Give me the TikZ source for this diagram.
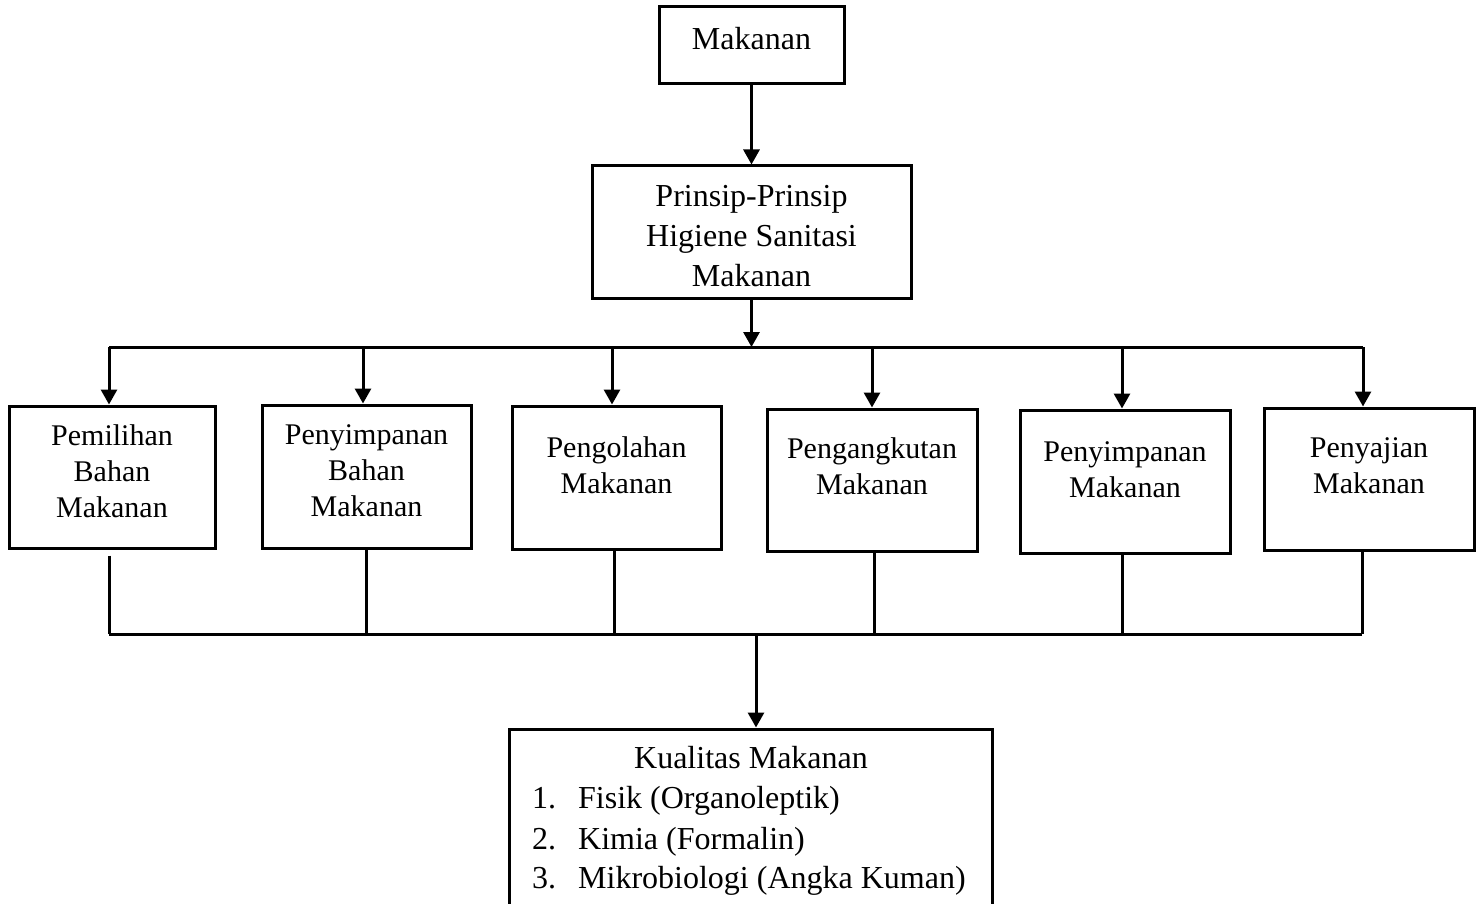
\documentclass[tikz,border=0pt]{standalone}
\usepackage{fontspec}
\setmainfont{Liberation Serif}
\usetikzlibrary{arrows.meta}
\tikzset{
  box/.style={draw, line width=3pt, inner sep=0pt, rectangle},
  conn/.style={line width=3pt},
  arr/.style={line width=3pt, -{Triangle[width=16pt,length=15pt]}},
  smalltxt/.style={inner sep=0pt, align=center, font=\fontsize{30}{36}\selectfont},
  bigtxt/.style={inner sep=0pt, align=center, font=\fontsize{32}{40}\selectfont},
}
\begin{document}
\begin{tikzpicture}[x=1pt,y=-1pt]
\clip (0,0) rectangle (1483,904);
\fill[white] (0,0) rectangle (1483,904);
% top boxes
\node[box, minimum width=185pt, minimum height=77pt] (mk) at (751.5,45.5) {};
\node[bigtxt, anchor=base] (mkt) at (751.5,50) {Makanan};
\node[box, minimum width=319pt, minimum height=132pt] (pr) at (751.5,232) {};
\node[bigtxt, anchor=north] (prt) at (751.5,185) {Prinsip-Prinsip\\Higiene Sanitasi\\Makanan};
% six boxes
\node[box, minimum width=206pt, minimum height=142pt] (b1) at (112,477) {};
\node[box, minimum width=209pt, minimum height=143pt] (b2) at (366.5,476.5) {};
\node[box, minimum width=209pt, minimum height=143pt] (b3) at (616.5,477.5) {};
\node[box, minimum width=210pt, minimum height=142pt] (b4) at (872,480) {};
\node[box, minimum width=210pt, minimum height=143pt] (b5) at (1125,481.5) {};
\node[box, minimum width=210pt, minimum height=142pt] (b6) at (1369,479) {};
\node[smalltxt, anchor=north] (t1) at (112,424) {Pemilihan\\Bahan\\Makanan};
\node[smalltxt, anchor=north] (t2) at (366.5,424) {Penyimpanan\\Bahan\\Makanan};
\node[smalltxt, anchor=north] (t3) at (616.5,436) {Pengolahan\\Makanan};
\node[smalltxt, anchor=north] (t4) at (872,437) {Pengangkutan\\Makanan};
\node[smalltxt, anchor=north] (t5) at (1125,441) {Penyimpanan\\Makanan};
\node[smalltxt, anchor=north] (t6) at (1369,437) {Penyajian\\Makanan};
% bottom box
\node[box, minimum width=483pt, minimum height=260pt] (kq) at (750.5,859) {};
\node[bigtxt, anchor=base] (kqt) at (751,768) {Kualitas Makanan};
\node[bigtxt, anchor=base west] (k1) at (532,808) {\makebox[46pt][l]{1.}Fisik (Organoleptik)};
\node[bigtxt, anchor=base west] (k2) at (532,849) {\makebox[46pt][l]{2.}Kimia (Formalin)};
\node[bigtxt, anchor=base west] (k3) at (532,888) {\makebox[46pt][l]{3.}Mikrobiologi (Angka Kuman)};
% connectors top
\draw[arr] (mk.south) -- (mk.south |- pr.north);
\coordinate (u1) at (109,347);
\coordinate (u2) at (363,347);
\coordinate (u3) at (612,347);
\coordinate (u4) at (872,347);
\coordinate (u5) at (1122,347);
\coordinate (u6) at (1363,347);
\draw[arr] (pr.south) -- (pr.south |- u1);
\draw[conn] (u1) -- (u6);
\foreach \i in {1,...,6}{
  \draw[arr] (u\i) -- (u\i |- b\i.north);
}
% connectors bottom
\coordinate (d1) at (109,634);
\coordinate (d2) at (366,634);
\coordinate (d3) at (614,634);
\coordinate (d4) at (874,634);
\coordinate (d5) at (1122,634);
\coordinate (d6) at (1362,634);
\coordinate (dm) at (756,634);
\draw[conn] ([yshift=-6pt]d1 |- b1.south) -- (d1);
\foreach \i in {2,...,6}{
  \draw[conn] (d\i |- b\i.south) -- (d\i);
}
\draw[conn] (d1) -- (d6);
\draw[arr] (dm) -- (dm |- kq.north);
\end{tikzpicture}
\end{document}
